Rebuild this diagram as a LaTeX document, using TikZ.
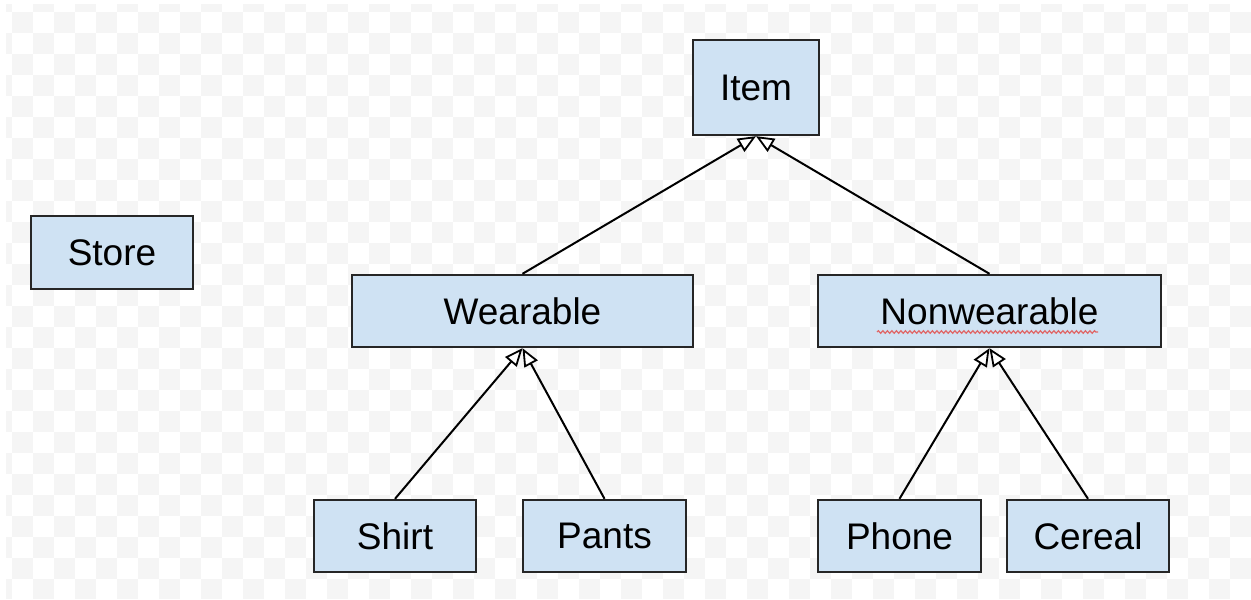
\documentclass[tikz,border=0pt]{standalone}
\usepackage{fontspec}
\setmainfont{Liberation Sans}
\usetikzlibrary{arrows.meta,decorations.pathmorphing}
\definecolor{boxfill}{HTML}{CFE2F3}
\definecolor{boxline}{HTML}{262626}
\definecolor{checker}{HTML}{F5F5F5}
\definecolor{spell}{HTML}{E06666}
\tikzset{
  cls/.style={draw=boxline, fill=boxfill, line width=2.4pt, inner sep=0pt,
    font=\fontsize{37}{44}\selectfont, text=black},
  inherit/.style={draw=black, line width=2pt,
    -{Triangle[length=18pt, width=15pt, fill=white, line width=1.8pt]}}
}
\begin{document}
\begin{tikzpicture}[x=1pt,y=-1pt]
\useasboundingbox (0,0) rectangle (1251,600);
\fill[white] (0,0) rectangle (1251,600);
\begin{scope}
\clip (6,4) rectangle (1251,598);
\foreach \i in {-1,...,58}{
  \foreach \j in {-1,...,28}{
    \pgfmathtruncatemacro\myparity{mod(\i+\j+100,2)}
    \ifnum\myparity=0
      \fill[checker] (12+21*\i,12+21*\j) rectangle ++(21,21);
    \fi
  }
}
\end{scope}

\node[cls, minimum width=126pt, minimum height=95pt] (item) at (756,87.5) {Item};
\node[cls, minimum width=162pt, minimum height=73pt] (store) at (112,252.5) {Store};
\node[cls, minimum width=341pt, minimum height=72pt] (wear) at (522.5,311) {Wearable};
\node[cls, minimum width=343pt, minimum height=72pt] (nonwear) at (989.5,311) {Nonwearable};
\node[cls, minimum width=162pt, minimum height=72pt] (shirt) at (395,536) {Shirt};
\node[cls, minimum width=163pt, minimum height=72pt] (pants) at (604.5,536) {Pants};
\node[cls, minimum width=163pt, minimum height=72pt] (phone) at (899.5,536) {Phone};
\node[cls, minimum width=162pt, minimum height=72pt] (cereal) at (1088,536) {Cereal};

\coordinate (sq1) at (877,332);
\coordinate (sq2) at (1098,332);
\draw[spell, line width=1.2pt, decorate, decoration={snake, amplitude=1.3pt, segment length=4.5pt}] (sq1) -- (sq2);

\draw[inherit] (wear.north) -- (item.south);
\draw[inherit] (nonwear.north) -- (item.south);
\draw[inherit] (shirt.north) -- (wear.south);
\draw[inherit] (pants.north) -- (wear.south);
\draw[inherit] (phone.north) -- (nonwear.south);
\draw[inherit] (cereal.north) -- (nonwear.south);
\end{tikzpicture}
\end{document}
